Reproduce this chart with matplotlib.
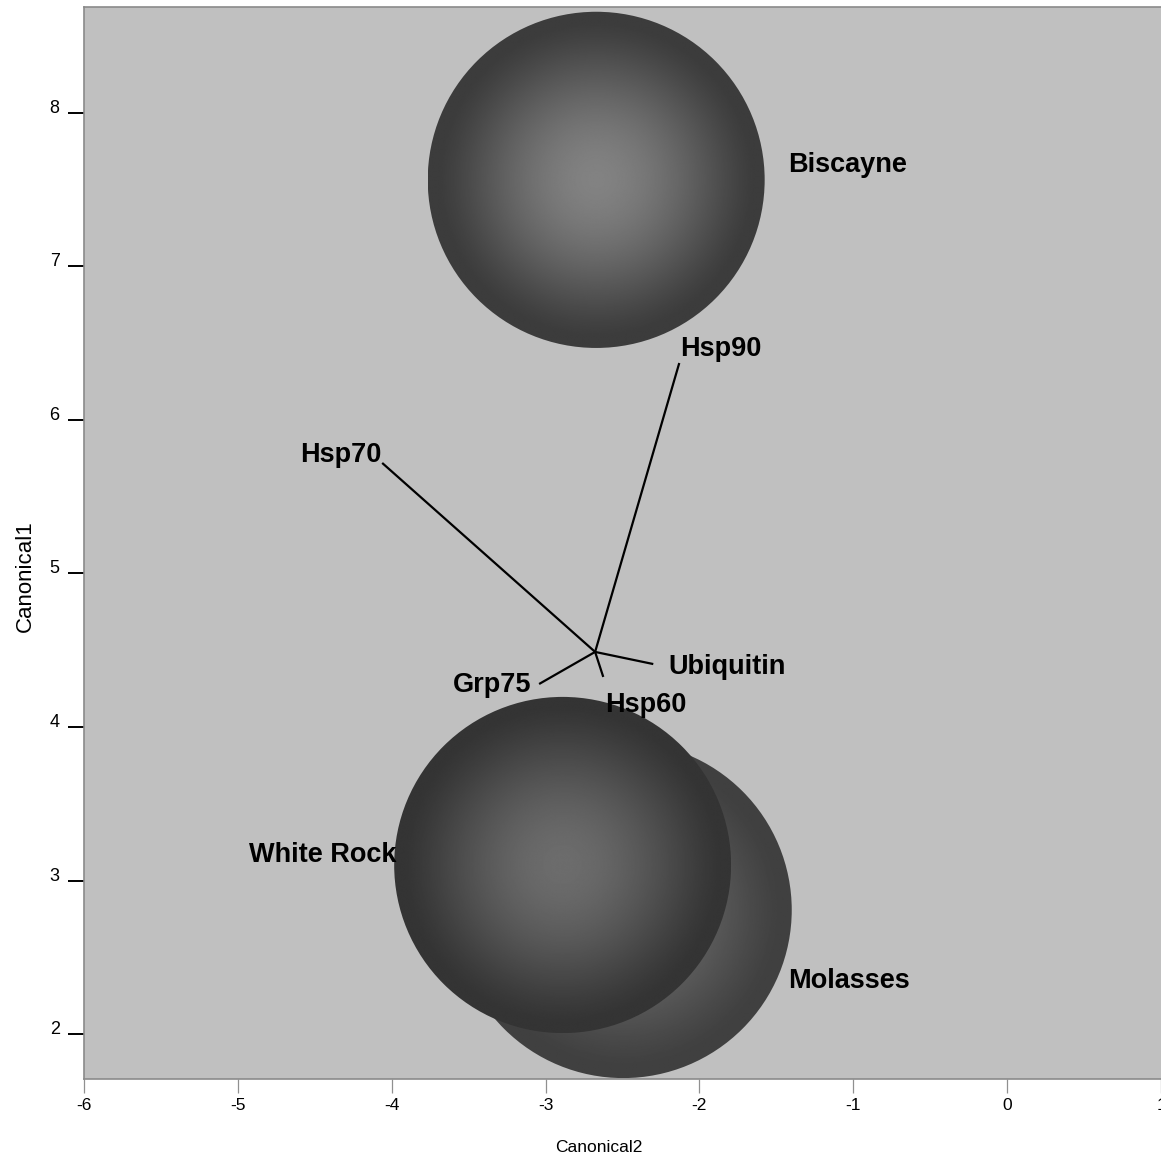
import numpy as np
import matplotlib
matplotlib.use("Agg")
import matplotlib.pyplot as plt
from matplotlib.patches import Circle

plt.rcParams['font.family'] = ['Liberation Sans', 'DejaVu Sans']

# ---- data ----
groups = ["Biscayne", "White Rock", "Molasses"]
group_x = [-2.671, -2.889, -2.495]
group_y = [7.564, 3.101, 2.808]
group_r = [1.095, 1.095, 1.095]
group_label_x = [-1.423, -3.970, -1.423]
group_label_y = [7.616, 3.121, 2.300]
group_label_ha = ["left", "right", "left"]

ray_origin = (-2.678, 4.489)
vars_ = ["Hsp90", "Hsp70", "Ubiquitin", "Grp75", "Hsp60"]
ray_x = [-2.131, -4.062, -2.300, -3.042, -2.625]
ray_y = [6.371, 5.720, 4.410, 4.280, 4.326]
var_label_x = [-2.125, -4.069, -2.203, -3.093, -2.612]
var_label_y = [6.417, 5.726, 4.345, 4.228, 4.098]
var_label_ha = ["left", "right", "left", "right", "left"]

xticks = [-6, -5, -4, -3, -2, -1, 0, 1]
yticks = [2, 3, 4, 5, 6, 7, 8]

W, H = 1161, 1156
fig = plt.figure(figsize=(W / 100, H / 100), dpi=100)
ax = fig.add_axes([84 / W, 1 - 1079 / H, 1077 / W, 1072 / H])
ax.set_facecolor("#c0c0c0")

# shading parameters per circle (center grey, edge grey)
shade = [(0.51, 0.235), (0.425, 0.205), (0.44, 0.25)]
order = [2, 1, 0]  # Molasses below White Rock
n = 400
g = np.linspace(-1, 1, n)
XX, YY = np.meshgrid(g, g)
RR = np.sqrt(XX ** 2 + YY ** 2)
for i in order:
    cx, cy, r = group_x[i], group_y[i], group_r[i]
    c0, c1 = shade[i]
    t = np.clip(RR / 0.95, 0, 1)
    img = c1 + (c0 - c1) * (1 - t ** 1.8) ** 1.4
    circ = Circle((cx, cy), r, facecolor="none", edgecolor="none", zorder=2)
    ax.add_patch(circ)
    im = ax.imshow(img, extent=[cx - r, cx + r, cy - r, cy + r], origin="lower",
                   cmap="gray", vmin=0, vmax=1, aspect="auto", zorder=2,
                   interpolation="bilinear")
    im.set_clip_path(circ)

for xe, ye in zip(ray_x, ray_y):
    ax.plot([ray_origin[0], xe], [ray_origin[1], ye], color="black", lw=1.6,
            zorder=4, solid_capstyle="butt")

for name, lx, ly, ha in zip(vars_, var_label_x, var_label_y, var_label_ha):
    ax.text(lx, ly, name, ha=ha, va="baseline", fontsize=19.5, fontweight="bold",
            color="black", zorder=5)
for name, lx, ly, ha in zip(groups, group_label_x, group_label_y, group_label_ha):
    ax.text(lx, ly, name, ha=ha, va="baseline", fontsize=19.5, fontweight="bold",
            color="black", zorder=5)

ax.set_xlim(-6, 1)
ax.set_ylim(1.707, 8.69)

ax.set_xticks(xticks)
ax.set_xticklabels([str(v) for v in xticks])
ax.set_yticks(yticks)
ax.set_yticklabels([str(v) for v in yticks])
ax.tick_params(axis="x", direction="out", length=10, width=0.9, color="#909090",
               labelsize=12.5, pad=4)
ax.tick_params(axis="y", direction="out", length=11.5, width=1.4, color="black",
               labelsize=13, pad=6)
for lab in ax.get_yticklabels():
    lab.set_verticalalignment("baseline")

for side in ["left", "bottom", "top", "right"]:
    ax.spines[side].set_color("#8a8a8a")
    ax.spines[side].set_linewidth(1.2)
ax.spines["right"].set_visible(False)

fig.text(25 / W, 1 - 576 / H, "Canonical1", rotation=90, ha="center", va="center",
         fontsize=16)
fig.text(599 / W, 1 - 1147 / H, "Canonical2", ha="center", va="center", fontsize=12.5)

fig.savefig("out.png", dpi=100)
